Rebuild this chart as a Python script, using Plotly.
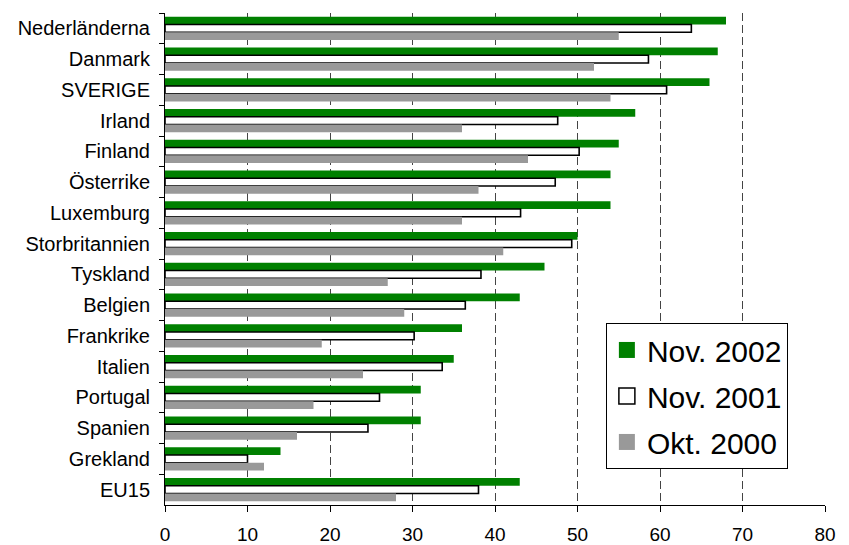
import plotly.graph_objects as go

categories = ["Nederländerna", "Danmark", "SVERIGE", "Irland", "Finland", "Österrike",
              "Luxemburg", "Storbritannien", "Tyskland", "Belgien", "Frankrike", "Italien",
              "Portugal", "Spanien", "Grekland", "EU15"]
nov2002 = [68, 67, 66, 57, 55, 54, 54, 50, 46, 43, 36, 35, 31, 31, 14, 43]
nov2001 = [63.8, 58.6, 60.8, 47.6, 50.2, 47.3, 43.1, 49.3, 38.3, 36.4, 30.2, 33.6, 26, 24.6, 10, 38]
okt2000 = [55, 52, 54, 36, 44, 38, 36, 41, 27, 29, 19, 24, 18, 16, 12, 28]
x_ticks = [0, 10, 20, 30, 40, 50, 60, 70, 80]

fig = go.Figure()
fig.add_trace(go.Bar(y=categories, x=nov2002, orientation="h", name="Nov. 2002",
                     marker=dict(color="#008000", line=dict(width=0)), showlegend=False))
fig.add_trace(go.Bar(y=categories, x=nov2001, orientation="h", name="Nov. 2001",
                     marker=dict(color="#ffffff", line=dict(color="#000000", width=1.6)), showlegend=False))
fig.add_trace(go.Bar(y=categories, x=okt2000, orientation="h", name="Okt. 2000",
                     marker=dict(color="#999999", line=dict(width=0)), showlegend=False))

# legend entries
for i, (name, col, lc, lw) in enumerate([("Nov. 2002", "#008000", "#008000", 0),
                                         ("Nov. 2001", "#ffffff", "#000000", 1.5),
                                         ("Okt. 2000", "#999999", "#999999", 0)]):
    fig.add_trace(go.Scatter(x=[None], y=[None], mode="markers", name=name,
                             legendgroup="g%d" % i,
                             marker=dict(symbol="square", size=20, color=col,
                                         line=dict(color=lc, width=lw))))

fig.update_layout(
    width=841, height=537,
    margin=dict(l=157, r=24, t=5, b=40),
    paper_bgcolor="white", plot_bgcolor="white",
    barmode="group", bargap=0.25, bargroupgap=0,
    font=dict(family="Liberation Sans, Arial", size=19, color="black"),
    legend=dict(x=0.668, y=0.370, xanchor="left", yanchor="top",
                bgcolor="white", bordercolor="black", borderwidth=1,
                font=dict(size=30), itemsizing="trace", tracegroupgap=4),
    xaxis=dict(range=[0, 80], tickvals=x_ticks, showgrid=True, gridcolor="#444444",
               griddash="8px,4px", gridwidth=1, showline=True, linecolor="black", linewidth=1,
               ticks="outside", ticklen=6, tickcolor="black", zeroline=False,
               tickfont=dict(size=19), ticklabelstandoff=6, automargin=False),
    yaxis=dict(autorange="reversed", showline=True, linecolor="black", linewidth=1,
               ticks="outside", ticklen=5, tickcolor="black", tickson="boundaries",
               showgrid=False, tickfont=dict(size=20), ticklabelstandoff=10, automargin=False),
)
fig.write_html("out.html")
